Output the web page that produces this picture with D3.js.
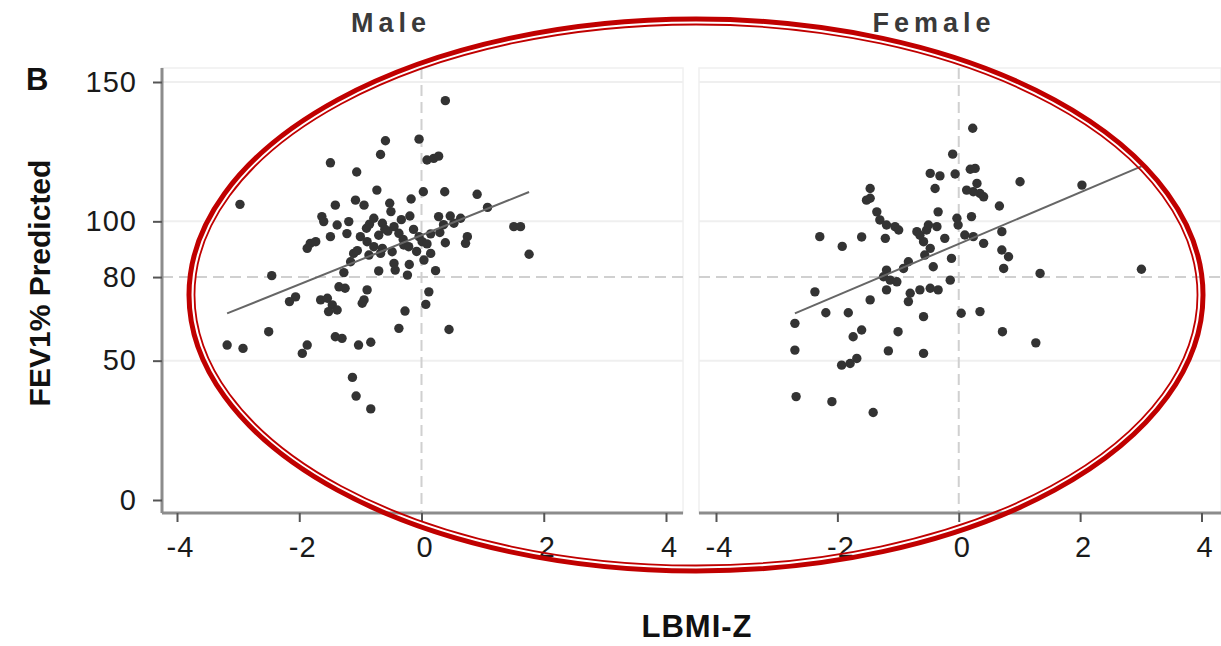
<!DOCTYPE html>
<html>
<head>
<meta charset="utf-8">
<script src="https://cdn.jsdelivr.net/npm/d3@7"></script>
<style>
  html, body { margin: 0; padding: 0; background: #fff; }
  svg { display: block; }
</style>
</head>
<body>
<svg id="chart" width="1221" height="646"></svg>
<script>
// LBMI-Z (x) and FEV1% predicted (y) per subject, by sex
const maleLBMIZ = [0.39,-0.59,-0.04,-0.67,0.09,0.20,0.28,-1.49,-1.06,-0.73,0.03,0.38,0.91,-2.97,-1.41,-1.08,-0.94,-0.52,-0.50,-0.17,-0.19,1.08,-1.63,-1.60,-1.38,-1.19,-0.78,-0.64,-0.45,-0.37,-0.13,-0.04,0.28,0.47,0.64,0.53,0.36,1.51,1.62,-1.49,-1.82,-1.73,-1.87,-1.0,-0.89,-0.78,-0.64,-0.29,-0.21,0.01,0.09,0.39,0.75,0.72,1.76,-1.11,-1.16,-0.86,-0.67,-0.48,0.15,0.04,-0.45,-0.43,-0.70,-0.23,0.23,-1.27,-2.45,-1.35,-1.25,-0.89,-0.94,-0.97,0.12,0.07,-2.06,-2.16,-1.65,-1.54,-1.46,-1.52,-1.38,-0.27,-0.37,-2.50,0.45,-1.41,-1.30,-1.03,-0.83,-3.18,-2.92,-1.87,-1.95,-1.13,-1.07,-0.83,-0.55,-0.30,-0.90,-0.70,0.15,-1.05,-0.20,-0.60,-0.85,-0.33,-1.22,0.30,-0.08];
const maleFEV1 = [143.3,128.9,129.5,124.0,122.0,122.6,123.4,121.0,117.7,111.2,110.6,110.6,109.7,106.1,105.8,107.6,105.8,106.5,103.5,108.0,101.9,105.0,101.7,99.9,98.7,99.9,101.1,99.3,98.1,95.7,97.1,94.5,101.7,101.9,101.1,99.3,98.8,98.1,98.1,94.5,92.1,92.7,90.3,94.5,92.7,90.9,90.3,91.5,90.9,92.7,91.9,92.3,94.5,92.1,88.2,88.5,85.5,87.9,88.5,89.1,88.5,86.1,84.9,82.5,82.2,80.7,82.3,81.6,80.5,76.5,76.0,75.4,71.8,70.6,74.7,70.2,72.9,71.2,71.8,72.4,70.0,67.6,68.2,67.8,61.6,60.4,61.2,58.6,58.0,55.6,56.6,55.6,54.4,55.6,52.6,44.0,37.3,32.7,96.5,93.5,97.5,95.0,95.5,89.5,84.5,97.2,99.0,100.6,95.6,96.0,89.2];

const femaleLBMIZ = [0.23,-0.10,-0.47,-0.31,-0.06,0.19,0.27,-0.39,-1.46,-1.46,-1.52,0.30,0.35,0.24,0.41,0.13,1.01,2.03,0.67,-1.35,-1.30,-1.19,-1.05,-0.99,-1.21,-0.34,-0.03,-0.01,0.21,-2.29,-1.92,-1.60,-0.69,-0.53,-0.36,-0.23,-0.58,-0.47,-0.50,-0.64,0.10,0.24,0.41,0.71,0.71,0.82,0.74,-0.56,-0.12,-0.42,-0.83,-0.91,-1.19,-1.24,-1.13,-1.02,-1.19,-0.14,-1.46,-0.80,-0.64,-0.47,-0.34,-0.83,1.34,3.01,-2.37,-1.82,-2.19,-0.58,0.04,0.35,-2.70,-1.60,-1.74,-1.00,0.72,1.27,-2.70,-1.16,-0.58,-1.68,-1.79,-1.93,-2.68,-2.09,-1.41];
const femaleFEV1 = [133.4,124.1,117.2,116.3,117.0,118.7,119.0,111.8,111.8,108.3,107.6,113.6,110.0,110.6,108.8,111.2,114.2,113.0,105.5,103.4,100.5,98.7,98.1,96.9,93.9,103.4,101.1,98.7,101.7,94.5,91.0,94.4,96.3,96.9,98.1,93.9,92.7,90.3,98.7,95.0,95.1,94.5,92.1,96.3,89.7,87.3,83.1,87.9,86.7,83.7,85.5,83.1,82.5,80.1,78.9,78.3,75.4,78.9,71.8,74.2,75.4,76.0,75.4,71.2,81.3,82.8,74.7,67.2,67.2,65.8,67.0,67.6,63.4,61.0,58.6,60.4,60.4,56.4,53.8,53.5,52.6,50.8,49.0,48.4,37.1,35.3,31.4];

// Linear fit per panel: [intercept, slope]
const maleFit = [95.0, 8.82];
const femaleFit = [91.9, 9.24];

const panelTitles = ["Male", "Female"];
const xTicks = [-4, -2, 0, 2, 4];
const yTicks = [0, 50, 80, 100, 150];
const yGrid = [50, 100, 150];
const refX = 0, refY = 80;

// ---- layout ----
const svg = d3.select("#chart");
const plotTop = 68, plotBottom = 513;
const y = d3.scaleLinear().domain([0, 150]).range([500, 82]);
const fmt = d => String(d);   // plain hyphen for negatives

const panels = [
  { title: panelTitles[0], xs: maleLBMIZ, ys: maleFEV1, fit: maleFit,
    left: 162, right: 683, x: d3.scaleLinear().domain([-4, 4]).range([177, 666]), titleX: 391, yAxis: true },
  { title: panelTitles[1], xs: femaleLBMIZ, ys: femaleFEV1, fit: femaleFit,
    left: 699, right: 1221, x: d3.scaleLinear().domain([-4, 4]).range([716, 1201.5]), titleX: 934, yAxis: false }
];

const font = "'Liberation Sans', Arial, Helvetica, sans-serif";

panels.forEach(p => {
  const g = svg.append("g");

  // faint panel frame
  g.append("rect")
    .attr("x", p.left).attr("y", plotTop)
    .attr("width", p.right - p.left).attr("height", plotBottom - plotTop)
    .attr("fill", "none").attr("stroke", "#f0f0f0").attr("stroke-width", 1.5);

  // light horizontal grid
  g.selectAll(".grid").data(yGrid).join("line")
    .attr("x1", p.left).attr("x2", p.right)
    .attr("y1", d => y(d)).attr("y2", d => y(d))
    .attr("stroke", "#efefef").attr("stroke-width", 2);

  // dashed reference lines at LBMI-Z = 0 and FEV1 = 80
  g.append("line")
    .attr("x1", p.left).attr("x2", p.right)
    .attr("y1", y(refY)).attr("y2", y(refY))
    .attr("stroke", "#d0d0d0").attr("stroke-width", 2).attr("stroke-dasharray", "11,6");
  g.append("line")
    .attr("x1", p.x(refX)).attr("x2", p.x(refX))
    .attr("y1", plotTop).attr("y2", plotBottom)
    .attr("stroke", "#d0d0d0").attr("stroke-width", 2).attr("stroke-dasharray", "11,6");

  // points
  const pts = p.xs.map((v, i) => [v, p.ys[i]]);
  g.selectAll(".pt").data(pts).join("circle")
    .attr("cx", d => p.x(d[0])).attr("cy", d => y(d[1]))
    .attr("r", 4.7).attr("fill", "#333");

  // fit line over the data range
  const [x0, x1] = d3.extent(p.xs);
  const fx = v => p.fit[0] + p.fit[1] * v;
  g.append("line")
    .attr("x1", p.x(x0)).attr("y1", y(fx(x0)))
    .attr("x2", p.x(x1)).attr("y2", y(fx(x1)))
    .attr("stroke", "#666").attr("stroke-width", 2);

  // x axis
  const xAxis = d3.axisBottom(p.x).tickValues(xTicks).tickFormat(fmt)
    .tickSize(9).tickPadding(14).tickSizeOuter(0);
  const ax = g.append("g").attr("transform", `translate(0,${plotBottom})`).call(xAxis);
  ax.select(".domain").attr("d", `M${p.left},0H${p.right}`).attr("stroke", "#8c8c8c").attr("stroke-width", 3);
  ax.selectAll(".tick line").attr("stroke", "#555").attr("stroke-width", 2);
  ax.selectAll(".tick text")
    .attr("font-family", font).attr("font-size", 29).attr("fill", "#1a1a1a")
    .attr("dx", 3).style("letter-spacing", "1px");

  // y axis (first panel only)
  if (p.yAxis) {
    const yAxis = d3.axisLeft(y).tickValues(yTicks).tickFormat(fmt)
      .tickSize(9).tickPadding(16).tickSizeOuter(0);
    const ay = g.append("g").attr("transform", `translate(${p.left},0)`).call(yAxis);
    ay.select(".domain").attr("d", `M0,${plotTop}V${plotBottom}`).attr("stroke", "#8c8c8c").attr("stroke-width", 3);
    ay.selectAll(".tick line").attr("stroke", "#555").attr("stroke-width", 2);
    ay.selectAll(".tick text")
      .attr("font-family", font).attr("font-size", 29).attr("fill", "#1a1a1a")
      .style("letter-spacing", "1px");
  }

  // panel title
  svg.append("text")
    .attr("x", p.titleX).attr("y", 32)
    .attr("text-anchor", "middle")
    .attr("font-family", font).attr("font-weight", "bold").attr("font-size", 27)
    .attr("fill", "#3a3a3a").style("letter-spacing", "5px")
    .text(p.title);
});

// panel letter
svg.append("text")
  .attr("x", 26).attr("y", 90)
  .attr("font-family", font).attr("font-weight", "bold").attr("font-size", 31)
  .attr("fill", "#111").text("B");

// axis titles
svg.append("text")
  .attr("transform", "translate(50,283) rotate(-90)")
  .attr("text-anchor", "middle")
  .attr("font-family", font).attr("font-weight", "bold").attr("font-size", 30)
  .attr("fill", "#111").text("FEV1% Predicted");

svg.append("text")
  .attr("x", 697).attr("y", 637)
  .attr("text-anchor", "middle")
  .attr("font-family", font).attr("font-weight", "bold").attr("font-size", 31)
  .attr("fill", "#111").style("letter-spacing", "1px").text("LBMI-Z");

// red double ellipse highlighting both point clouds
const hl = { cx: 696, cy: 295, rx: 507, ry: 276 };
svg.append("ellipse")
  .attr("cx", hl.cx).attr("cy", hl.cy).attr("rx", hl.rx).attr("ry", hl.ry)
  .attr("fill", "none").attr("stroke", "#c00000").attr("stroke-width", 5);
svg.append("ellipse")
  .attr("cx", hl.cx).attr("cy", hl.cy).attr("rx", hl.rx - 5.5).attr("ry", hl.ry - 5.5)
  .attr("fill", "none").attr("stroke", "#c00000").attr("stroke-width", 1.8);
</script>
</body>
</html>
